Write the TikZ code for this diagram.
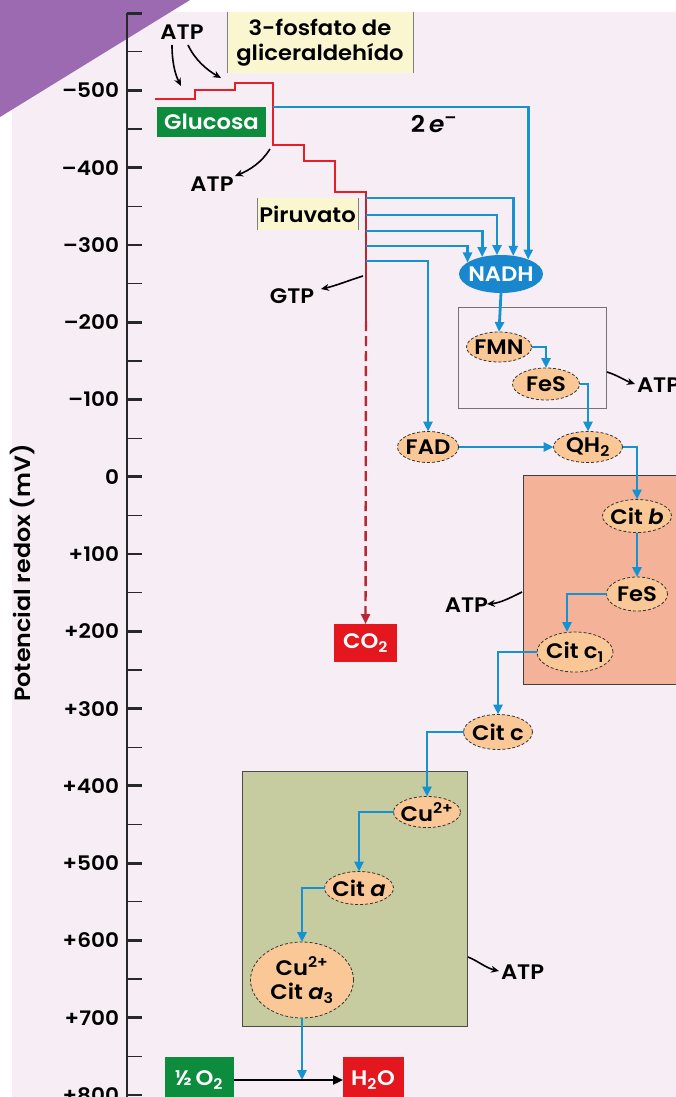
\documentclass[tikz,border=0pt]{standalone}
\usepackage{fontspec}
\setmainfont{Poppins}[UprightFont=* SemiBold, ItalicFont=* SemiBold Italic, BoldFont=* Bold, FakeStretch=1.08]
\usetikzlibrary{arrows.meta,shapes.geometric}
\definecolor{bg}{RGB}{246,237,245}
\definecolor{purp}{RGB}{155,106,176}
\definecolor{eblue}{RGB}{22,145,210}
\definecolor{nadhblue}{RGB}{24,135,205}
\definecolor{peach}{RGB}{249,200,150}
\definecolor{salmon}{RGB}{244,178,152}
\definecolor{olive}{RGB}{199,203,160}
\definecolor{labely}{RGB}{250,246,208}
\definecolor{gluc}{RGB}{14,140,62}
\definecolor{redbox}{RGB}{228,22,30}
\definecolor{rline}{RGB}{230,30,40}
\definecolor{dred}{RGB}{185,40,50}
\definecolor{axisc}{RGB}{40,40,40}
\begin{document}
\begin{tikzpicture}[x=1pt,y=-1pt,
  txt/.style={font=\fontsize{21}{24}\selectfont, inner sep=0, outer sep=0},
  wtxt/.style={txt, text=white},
  carrier/.style={ellipse, fill=peach, draw=black!80, densely dashed, line width=0.8pt, inner sep=0, outer sep=0, label={[txt, align=center]center:#1}},
  eline/.style={draw=eblue, line width=2.8pt, -{Triangle[length=10pt,width=9pt]}},
  blk/.style={draw=black, line width=1.6pt, -{Stealth[length=8pt,width=7pt]}},
  tagbox/.style={anchor=north west, inner sep=0, outer sep=0},
  tick/.style={draw=axisc, line width=1.3pt},
  majtick/.style={draw=axisc, line width=2.8pt},
  ticklbl/.style={txt, anchor=east, font=\fontsize{20}{24}\selectfont}
]
\useasboundingbox (0,0) rectangle (676,1097);
\fill[white] (0,0) rectangle (676,1097);
\fill[bg] (12,12) rectangle (676,1097);
\fill[purp] (0,0) -- (190,0) -- (0,117) -- cycle;

% axis
\draw[draw=axisc, line width=1.8pt] (127,13) -- (127,1097);
\foreach \v in {-550,-450,...,750} {
  \pgfmathsetmacro\yy{476.8+0.7727*\v}
  \draw[tick] (127,\yy) -- (142,\yy);
}
\foreach \v/\t in {-600/,-500/–500,-400/–400,-300/–300,-200/–200,-100/–100,0/0,100/+100,200/+200,300/+300,400/+400,500/+500,600/+600,700/+700,800/+800} {
  \pgfmathsetmacro\yy{476.8+0.7727*\v}
  \draw[majtick] (127,\yy) -- (142,\yy);
  \node[ticklbl] (tl\v) at (119,\yy) {\t};
}
\node[txt, rotate=90, font=\fontsize{22}{24}\selectfont] (ytitle) at (23,573) {Potencial redox (mV)};

% label boxes
\node[tagbox, fill=labely, minimum width=186, minimum height=61, align=center, txt, font=\fontsize{21}{25}\selectfont] (g3p) at (227,12) {3-fosfato de\\gliceraldehído};
\draw[gray, line width=0.8pt] (g3p.north west) -- (g3p.south west);
\draw[gray, line width=0.8pt] (g3p.north east) -- (g3p.south east);
\node[tagbox, fill=labely, minimum width=101, minimum height=32, txt] (piru) at (257,198) {Piruvato};
\draw[gray, line width=0.8pt] (piru.north west) -- (piru.south west);
\draw[gray, line width=0.8pt] (piru.north east) -- (piru.south east);
\node[tagbox, fill=gluc, minimum width=109, minimum height=30, wtxt] (gluc) at (157,107) {Glucosa};

% complexes
\node[tagbox, draw=black!55, line width=0.9pt, minimum width=148, minimum height=101] (cx1) at (458,307) {};
\node[tagbox, fill=salmon, draw=black!75, line width=1pt, minimum width=170, minimum height=209] (cx3) at (523,475) {};
\node[tagbox, fill=olive, draw=black!70, line width=1pt, minimum width=225, minimum height=255] (cx4) at (242,771) {};

% red glycolysis / Krebs path
\draw[rline, line width=2.6pt] (155,99) -- (195,99) -- (195,90) -- (235,90) -- (235,83) -- (273,83) -- (273,145) -- (304,145) -- (304,161) -- (335,161) -- (335,192) -- (366,192);
\draw[dred, line width=2.6pt] (366,191) -- (366,321);
\node[tagbox, fill=redbox, minimum width=63, minimum height=38, wtxt] (co2) at (334,624) {CO\textsubscript{2}};
\draw[dred, line width=2.4pt, dash pattern=on 10pt off 5pt, -{Triangle[length=10pt,width=9pt]}] (366,321) -- (co2.north);

% carriers
\node[ellipse, fill=nadhblue, minimum width=84, minimum height=38, inner sep=0, outer sep=0, label={[wtxt]center:NADH}] (nadh) at (501,274) {};
\node[carrier={FMN}, minimum width=65, minimum height=30] (fmn) at (499,347) {};
\node[carrier={FeS}, minimum width=67, minimum height=32] (fes1) at (546,384) {};
\node[carrier={QH\textsubscript{2}}, minimum width=69, minimum height=31] (qh2) at (588,447) {};
\node[carrier={FAD}, minimum width=61, minimum height=31] (fad) at (428,447) {};
\node[carrier={Cit \textit{b}}, minimum width=69, minimum height=33] (citb) at (637,516) {};
\node[carrier={FeS}, minimum width=61, minimum height=34] (fes2) at (637,594) {};
\node[carrier={Cit c\textsubscript{1}}, minimum width=76, minimum height=40] (citc1) at (575,652) {};
\node[carrier={Cit c}, minimum width=69, minimum height=35] (citc) at (498,732) {};
\node[carrier={Cu\textsuperscript{2+}}, minimum width=67, minimum height=31] (cu) at (427,812) {};
\node[carrier={Cit \textit{a}}, minimum width=69, minimum height=33] (cita) at (359,888) {};
\node[carrier={Cu\textsuperscript{2+}\\Cit \textit{a}\textsubscript{3}}, minimum width=103, minimum height=76] (cua3) at (302,980) {};

% final boxes
\node[tagbox, fill=gluc, minimum width=69, minimum height=45, wtxt] (o2) at (165,1057) {}; 
\node[wtxt] (o2t) at (199,1080) {½\,O\textsubscript{2}};
\node[tagbox, fill=redbox, minimum width=61, minimum height=45, wtxt] (h2o) at (343,1057) {};
\node[wtxt] (h2ot) at (373,1080) {H\textsubscript{2}O};
\coordinate (wj) at (302,1080);

% electron connectors
\coordinate (e0) at (273,107);
\coordinate (e1) at (366,198);
\coordinate (e2) at (366,215);
\coordinate (e3) at (366,231);
\coordinate (e4) at (366,246);
\coordinate (e5) at (366,261);
\draw[eline] (e0) -| (nadh.28.3);
\draw[eline] (e1) -| (nadh.56.6);
\draw[eline] (e2) -| (nadh.102);
\draw[eline] (e3) -| (nadh.138.3);
\draw[eline] (e4) -| (nadh.161.8);
\draw[eline] (e5) -| (fad.north);
\node[txt, font=\fontsize{23}{26}\selectfont] (twoe) at (434,124) {2\,\textit{e}\textsuperscript{–}};
\draw[eline] (nadh.south) -- (fmn.north);
\draw[eline] (fmn.east) -| (fes1.north);
\draw[eline] (fes1.east) -| (qh2.north);
\draw[eline] (fad.east) -- (qh2.west);
\draw[eline] (qh2.east) -| (citb.north);
\draw[eline] (citb.south) -- (fes2.north);
\draw[eline] (fes2.west) -| ([xshift=-8pt]citc1.north);
\draw[eline] (citc1.west) -| (citc.north);
\draw[eline] (citc.west) -| (cu.north);
\draw[eline] (cu.west) -| (cita.north);
\draw[eline] (cita.west) -| (cua3.north);
\draw[eline] (cua3.south) -- (wj);
\draw[draw=black, line width=2.2pt, -{Triangle[length=10pt,width=9pt]}] (o2.east |- wj) -- (h2o.west |- wj);

% ATP / GTP
\node[txt] (atp1) at (182,32) {ATP};
\coordinate (a1s) at (172,45); \coordinate (a1e) at (181,86);
\coordinate (a2s) at (188,45); \coordinate (a2e) at (221,78);
\draw[blk] (a1s) .. controls (172,62) and (175,74) .. (a1e);
\draw[blk] (a2s) .. controls (195,60) and (207,70) .. (a2e);
\node[txt] (atp2) at (212,184) {ATP};
\coordinate (a3s) at (270,149); \coordinate (a3e) at (235,176);
\draw[blk] (a3s) .. controls (262,162) and (250,170) .. (a3e);
\node[txt] (gtp) at (292,296) {GTP};
\coordinate (gs) at (363,276); \coordinate (ge) at (321,289);
\draw[blk] (gs) .. controls (350,280) and (335,286) .. (ge);
\node[txt, anchor=west] (atp3) at (637,385) {ATP};
\coordinate (a4s) at (607,372); \coordinate (a4e) at (635,384);
\draw[blk] (a4s) .. controls (617,375) and (626,381) .. (a4e);
\node[txt, anchor=east] (atp4) at (488,605) {ATP};
\coordinate (a5s) at (522,592); \coordinate (a5e) at (487,604);
\draw[blk] (a5s) .. controls (510,598) and (500,603) .. (a5e);
\node[txt, anchor=west] (atp5) at (501,972) {ATP};
\coordinate (a6s) at (468,957); \coordinate (a6e) at (499,971);
\draw[blk] (a6s) .. controls (478,961) and (486,968) .. (a6e);
\end{tikzpicture}
\end{document}
